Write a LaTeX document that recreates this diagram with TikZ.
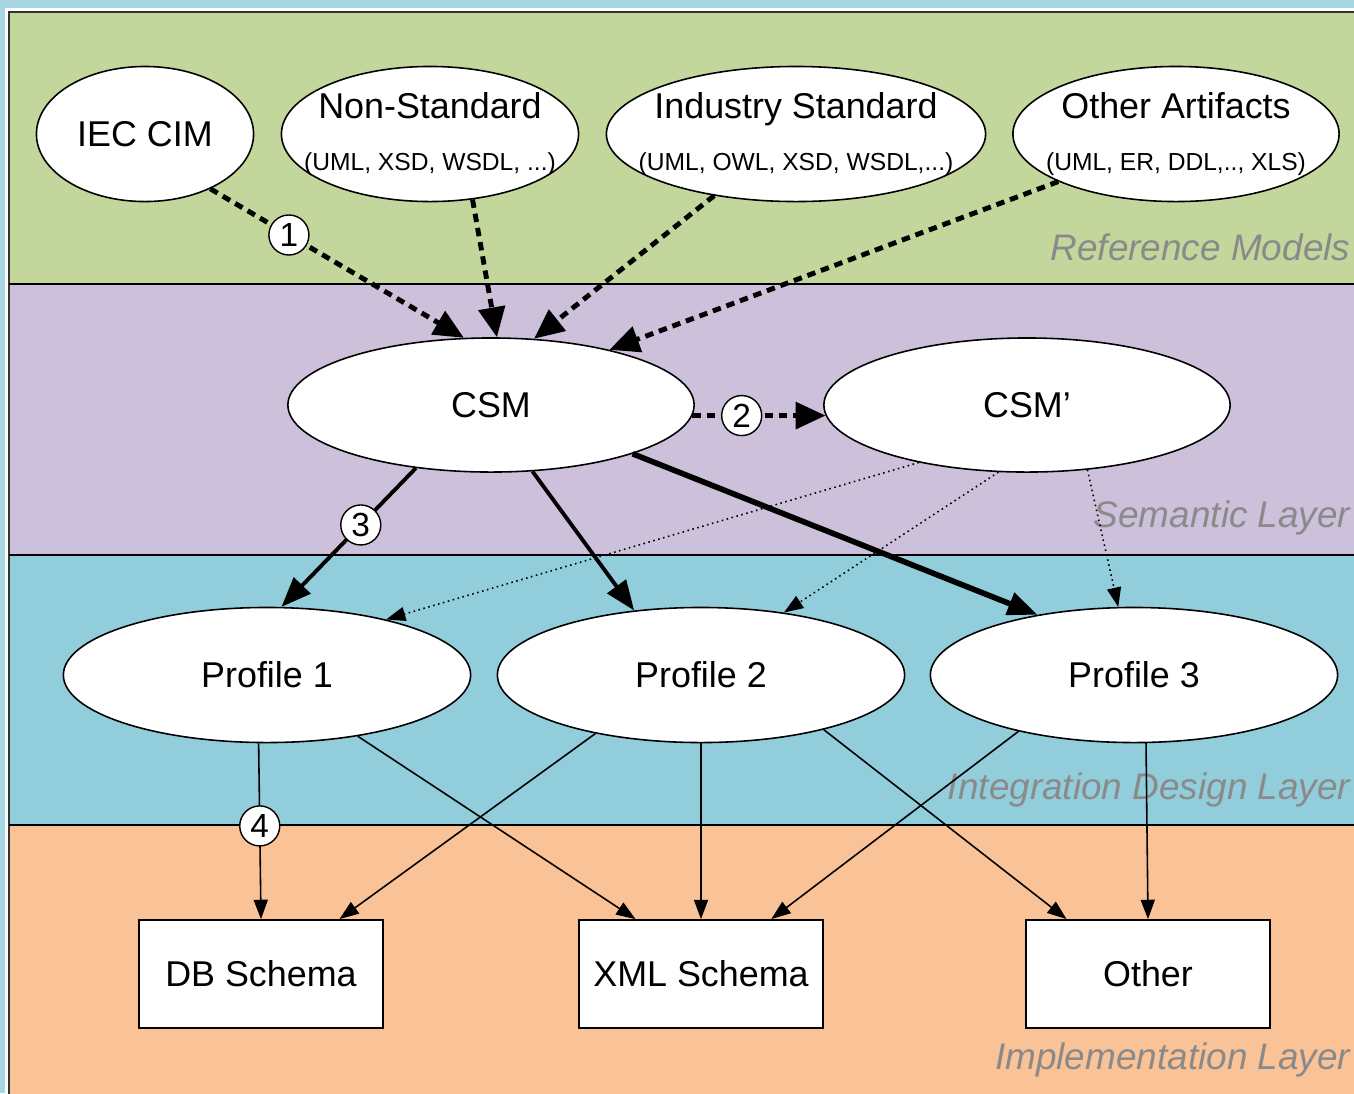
\documentclass[tikz,border=0pt]{standalone}
\usepackage{fontspec}
\setmainfont{Liberation Sans}
\usetikzlibrary{arrows.meta,shapes.geometric}

\definecolor{bgblue}{HTML}{A5D6E2}
\definecolor{refgreen}{HTML}{C3D69B}
\definecolor{sempurple}{HTML}{CCC0DA}
\definecolor{intblue}{HTML}{92CDDC}
\definecolor{imporange}{HTML}{F9C297}
\definecolor{layergray}{HTML}{8A8A8A}

\tikzset{
  model/.style={draw, ellipse, fill=white, inner sep=0pt, line width=0.45pt,
    minimum height=1.35cm},
  schema/.style={draw, rectangle, fill=white, line width=0.5pt,
    minimum width=2.44cm, minimum height=1.08cm, font=\fontsize{10.2}{12}\selectfont},
  layername/.style={anchor=east, inner sep=0pt, text=layergray, font=\fontsize{10.5}{12}\selectfont\itshape},
  num/.style={draw, circle, fill=white, inner sep=0pt, minimum size=0.4cm,
    line width=0.4pt, font=\fontsize{9.5}{10}\selectfont},
  every label/.style={align=center, font=\fontsize{10.2}{12}\selectfont},
  dasharrow/.style={line width=1.4pt, dash pattern=on 2.4pt off 1.7pt,
    -{Triangle[length=8.5pt,width=7.5pt]}},
  boldarrow/.style={line width=1.1pt, -{Triangle[length=8.5pt,width=6.5pt]}},
  dotarrow/.style={line width=0.45pt, densely dotted, -{Triangle[length=5.5pt,width=4pt]}},
  thinarrow/.style={line width=0.45pt, -{Triangle[length=5.5pt,width=4pt]}},
}
\newcommand{\sublabel}[1]{{\fontsize{7}{8}\selectfont #1}}

\begin{document}
\begin{tikzpicture}[x=0.01cm, y=-0.01cm]
\useasboundingbox (0,0) rectangle (1354,1093);
\clip (0,0) rectangle (1354,1093);
% layers
\fill[bgblue] (0,0) rectangle (1354,1093);
\fill[white] (5,8) rectangle (1360,1100);
\fill[refgreen] (9,12) rectangle (1360,284);
\fill[sempurple] (9,284) rectangle (1360,555);
\fill[intblue] (9,555) rectangle (1360,825);
\fill[imporange] (9,825) rectangle (1360,1100);
\draw[line width=0.8pt, black!80] (1360,12) -- (9,12) -- (9,1100);
\draw[line width=0.5pt] (9,284) -- (1360,284);
\draw[line width=0.5pt] (9,555) -- (1360,555);
\draw[line width=0.5pt] (9,825) -- (1360,825);
\node[layername] (L1) at (1351,247) {Reference Models};
\node[layername] (L2) at (1351,518) {Semantic Layer};
\node[layername] (L3) at (1351,790) {Integration Design Layer};
\node[layername] (L4) at (1351,1060) {Implementation Layer};

% reference models
\node[model, minimum width=2.17cm, label=center:{IEC CIM}] (RM1) at (145,134) {};
\node[model, minimum width=2.97cm, label=center:{Non-Standard\\[3pt]\sublabel{(UML, XSD, WSDL, ...)}}] (RM2) at (430,134) {};
\node[model, minimum width=3.79cm, label=center:{Industry Standard\\[3pt]\sublabel{(UML, OWL, XSD, WSDL,...)}}] (RM3) at (796,134) {};
\node[model, minimum width=3.26cm, label=center:{Other Artifacts\\[3pt]\sublabel{(UML, ER, DDL,.., XLS)}}] (RM4) at (1176,134) {};

% semantic layer
\node[model, minimum width=4.06cm, minimum height=1.34cm, label=center:{CSM}] (SL1) at (491,405) {};
\node[model, minimum width=4.06cm, minimum height=1.34cm, label=center:{CSM'}] (SL2) at (1027,405) {};

% integration design layer
\node[model, minimum width=4.07cm, label=center:{Profile 1}] (ID1) at (267,675) {};
\node[model, minimum width=4.07cm, label=center:{Profile 2}] (ID2) at (701,675) {};
\node[model, minimum width=4.07cm, label=center:{Profile 3}] (ID3) at (1134,675) {};

% implementation layer
\node[schema] (IM1) at (261,974) {DB Schema};
\node[schema] (IM2) at (701,974) {XML Schema};
\node[schema] (IM3) at (1148,974) {Other};

\draw[dasharrow] (RM1.-40) -- node[num, pos=0.31, solid] {1} (SL1.112);
\draw[dasharrow] (RM2.-57) -- (SL1.85);
\draw[dasharrow] (RM3.217) -- (SL1.57);
\draw[dasharrow] (RM4.202) -- (SL1.25);
\draw[dasharrow] (SL1.-3) -- node[num, pos=0.37, solid] {2} (SL2.183);

\draw[boldarrow] (SL1.220) -- node[num, pos=0.41] {3} (ID1.78);
\draw[boldarrow] (SL1.-58) -- (ID2.136);
\draw[boldarrow, line width=1.6pt] (SL1.-19) -- (ID3.148);
\draw[dotarrow] (SL2.208) -- (ID1.25);
\draw[dotarrow] (SL2.247) -- (ID2.37);
\draw[dotarrow] (SL2.-47) -- (ID3.103);

\draw[thinarrow] (ID1.-97) -- node[num, pos=0.47] {4} (IM1.north);
\draw[thinarrow] (ID1.-34) -- (IM2.140);
\draw[thinarrow] (ID2.209) -- (IM1.35);
\draw[thinarrow] (ID2.south) -- (IM2.north);
\draw[thinarrow] (ID2.-24) -- (IM3.146);
\draw[thinarrow] (ID3.206) -- (IM2.38);
\draw[thinarrow] (ID3.-80) -- (IM3.north);
\end{tikzpicture}
\end{document}
